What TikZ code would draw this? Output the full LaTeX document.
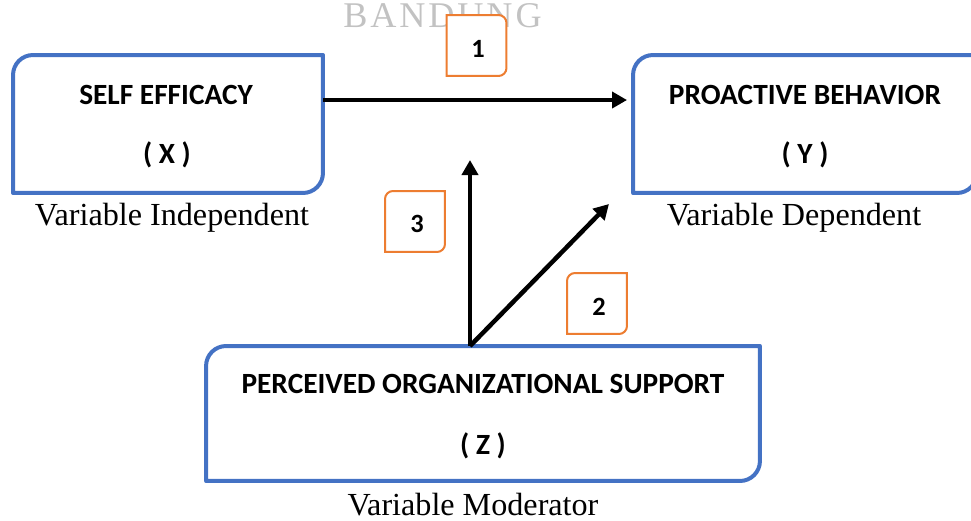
\documentclass[tikz,border=0pt]{standalone}
\usepackage{fontspec}
\setmainfont{Liberation Serif}
\newfontfamily\calibri{Carlito}
\usetikzlibrary{calc,arrows.meta}
\definecolor{boxblue}{HTML}{4472C4}
\definecolor{numorange}{HTML}{ED7D31}
\tikzset{
	varbox/.style={minimum width=#1, minimum height=2.76cm, inner sep=0pt, outer sep=0pt},
	numbox/.style={minimum width=1.2cm, minimum height=1.22cm, inner sep=0pt, outer sep=0pt},
	blueline/.style={draw=boxblue, line width=0.08cm, line join=round},
	orangeline/.style={draw=numorange, fill=white, line width=0.04cm},
	arrowline/.style={line width=0.09cm, -{Triangle[length=0.3cm,width=0.32cm]}},
	titletext/.style={font=\calibri\bfseries\fontsize{16.7}{19}\selectfont, anchor=base, inner sep=0pt},
	numtext/.style={font=\calibri\bfseries\fontsize{15}{18}\selectfont, anchor=base, inner sep=0pt},
	roletext/.style={font=\fontsize{18.3}{21}\selectfont, anchor=base, inner sep=0pt}
}
% top left and bottom right corners rounded
\def\diagframe[#1](#2)#3{\draw[#1] (#2.south west) -- ($(#2.north west)+(0,#3)$) arc[start angle=180, end angle=90, radius=#3*0.02cm] -- (#2.north east) -- ($(#2.south east)+(0,-#3)$) arc[start angle=0, end angle=-90, radius=#3*0.02cm] -- cycle;}
% top right and bottom right corners rounded
\def\sideframe[#1](#2)#3{\draw[#1] (#2.south west) -- (#2.north west) -- ($(#2.north east)+(-#3,0)$) arc[start angle=90, end angle=0, radius=#3*0.02cm] -- ($(#2.south east)+(0,-#3)$) arc[start angle=0, end angle=-90, radius=#3*0.02cm] -- cycle;}

\begin{document}
\begin{tikzpicture}[x=0.02cm, y=-0.02cm]
		%%%%% START %%%%%
		\useasboundingbox (0,0) rectangle (971,521);
		\clip (0,0) rectangle (971,521);
		
		\node[anchor=base west, inner sep=0pt, text=black!24, font=\fontsize{20.6}{24}\selectfont\addfontfeature{LetterSpace=8}] (wmark) at (343,27) {BANDUNG};
		
		% variables
		\node[varbox=6.2cm] (X) at (168,124) {};
		\diagframe[blueline](X){20}
		\node[titletext] (Xtitle) at (166,104) {SELF EFFICACY};
		\node[titletext] (Xsym) at (167,163) {( X )};
		\node[roletext] (Xrole) at (172,225) {Variable Independent};
		
		\node[varbox=6.88cm] (Y) at (805,124) {};
		\diagframe[blueline](Y){20}
		\node[titletext] (Ytitle) at (805,104) {PROACTIVE BEHAVIOR};
		\node[titletext] (Ysym) at (805,163) {( Y )};
		\node[roletext] (Yrole) at (794,225) {Variable Dependent};
		
		\node[varbox=11.08cm, minimum height=2.7cm] (Z) at (483,413.5) {};
		\diagframe[blueline](Z){20}
		\node[titletext] (Ztitle) at (483,393) {PERCEIVED ORGANIZATIONAL SUPPORT};
		\node[titletext] (Zsym) at (483,454) {( Z )};
		\node[roletext] (Zrole) at (473,515) {Variable Moderator};
		
		% paths
		\coordinate (modtip) at (470,160);
		\coordinate (deptip) at (609,204);
		\draw[arrowline] ($(X.north east)+(0,45)$) -- ($(Y.north west)+(-6,45)$);
		\draw[arrowline] (Z.north -| modtip) -- (modtip);
		\draw[arrowline] (Z.north -| modtip) -- (deptip);
		
		% path numbers
		\node[numbox] (one) at (476.5,45.5) {};
		\sideframe[orangeline](one){8}
		\node[numtext] (onetext) at (478,57) {1};
		
		\node[numbox] (three) at (415,221.5) {};
		\diagframe[orangeline](three){8}
		\node[numtext] (threetext) at (417,232) {3};
		
		\node[numbox] (two) at (597,303.5) {};
		\diagframe[orangeline](two){8}
		\node[numtext] (twotext) at (599,315) {2};
		
		%%%%% END %%%%%
	\end{tikzpicture}
\end{document}
